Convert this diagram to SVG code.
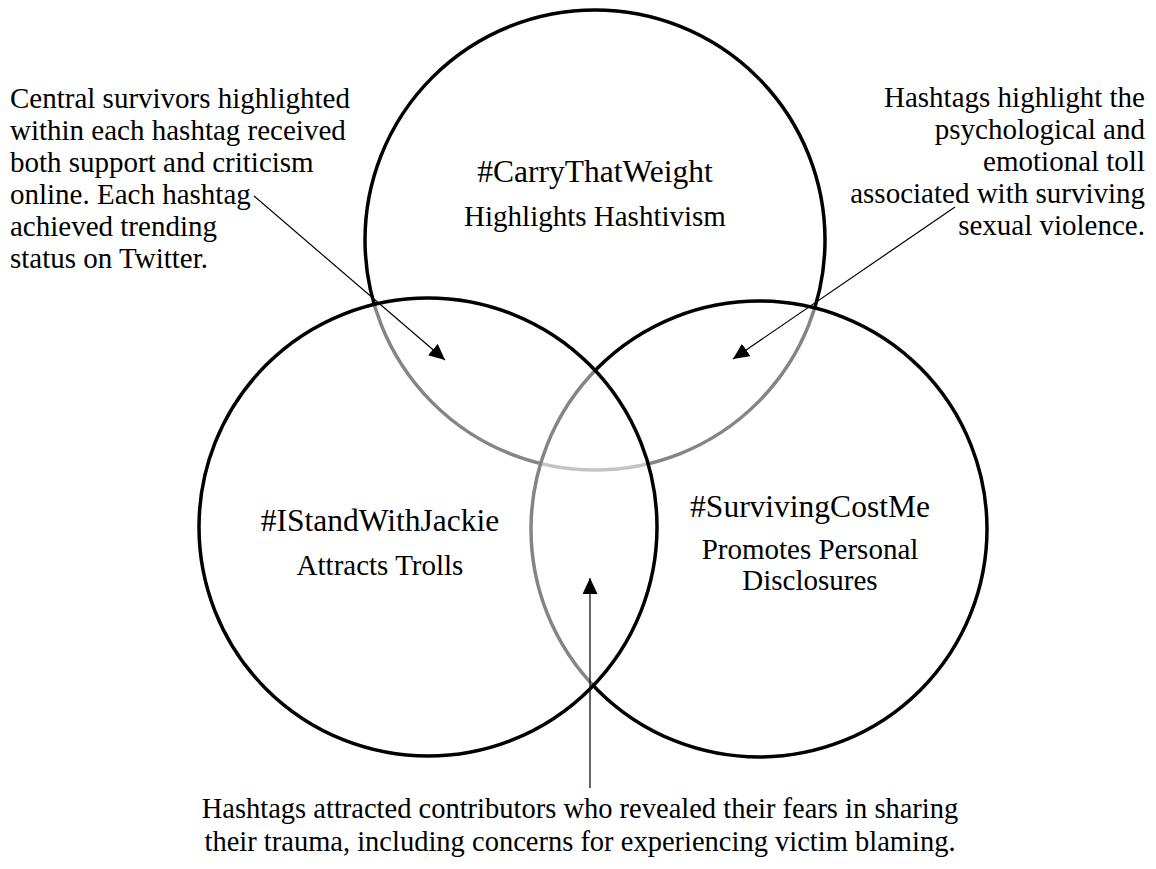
<svg xmlns="http://www.w3.org/2000/svg" width="1156" height="869" viewBox="0 0 1156 869">
<style>
.c{fill:#fff;fill-opacity:0.52;stroke:#000;stroke-width:3.5}
.t{font-family:"Liberation Serif","Times New Roman",serif;font-size:29px;fill:#000}
.h{font-size:31.5px}
.m{text-anchor:middle}
.e{text-anchor:end}
.b{font-size:28.5px}
.a{stroke:#000;stroke-width:1.2;fill:none;marker-end:url(#ah)}
</style>
<defs>
<marker id="ah" markerUnits="userSpaceOnUse" markerWidth="16" markerHeight="15" refX="16" refY="7.5" orient="auto">
<path d="M0,0 L16,7.5 L0,15 z" fill="#000"/>
</marker>
</defs>
<rect width="1156" height="869" fill="#fff"/>
<g id="node-carry">
<circle class="c" cx="595" cy="240" r="230"/>
<text class="t h m" x="595" y="182">#CarryThatWeight</text>
<text class="t m" x="595" y="226">Highlights Hashtivism</text>
</g>
<g id="node-surviving">
<circle class="c" cx="759" cy="529" r="228"/>
<text class="t h m" x="810" y="517">#SurvivingCostMe</text>
<text class="t m" x="810" y="559">Promotes Personal</text>
<text class="t m" x="810" y="590">Disclosures</text>
</g>
<g id="node-jackie">
<circle class="c" cx="428" cy="527" r="229"/>
<text class="t h m" x="380" y="531">#IStandWithJackie</text>
<text class="t m" x="380" y="575">Attracts Trolls</text>
</g>
<g id="note-left">
<text class="t" x="10" y="108">Central survivors highlighted</text>
<text class="t" x="10" y="140">within each hashtag received</text>
<text class="t" x="10" y="172">both support and criticism</text>
<text class="t" x="10" y="204">online. Each hashtag</text>
<text class="t" x="10" y="236">achieved trending</text>
<text class="t" x="10" y="268">status on Twitter.</text>
</g>
<g id="note-right">
<text class="t e" x="1145" y="107">Hashtags highlight the</text>
<text class="t e" x="1145" y="139">psychological and</text>
<text class="t e" x="1145" y="171">emotional toll</text>
<text class="t e" x="1145" y="203">associated with surviving</text>
<text class="t e" x="1145" y="235">sexual violence.</text>
</g>
<g id="note-bottom">
<text class="t b m" x="580" y="818">Hashtags attracted contributors who revealed their fears in sharing</text>
<text class="t b m" x="580" y="851">their trauma, including concerns for experiencing victim blaming.</text>
</g>
<g id="connectors">
<line class="a" x1="254" y1="196" x2="445" y2="360"/>
<line class="a" x1="955" y1="207" x2="733" y2="359"/>
<line class="a" x1="590" y1="788" x2="590" y2="578"/>
</g>
</svg>
